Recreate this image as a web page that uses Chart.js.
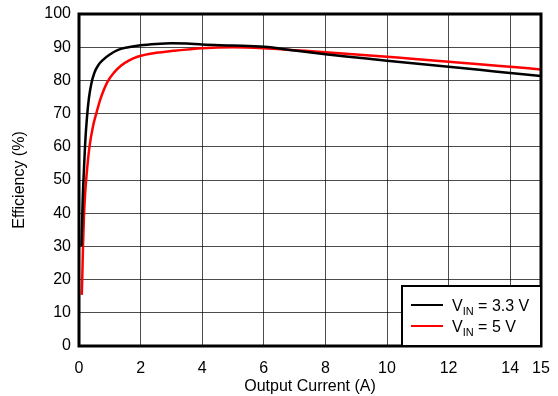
<!DOCTYPE html>
<html>
<head>
<meta charset="utf-8">
<script src="https://cdn.jsdelivr.net/npm/chart.js@4.4.1/dist/chart.umd.min.js"></script>
<style>
  html, body { margin: 0; padding: 0; background: #fff; }
  #wrap { width: 558px; height: 396px; }
</style>
</head>
<body>
<div id="wrap"><canvas id="grafico_eficiencia" width="558" height="396"></canvas></div>
<script>
// curva VIN = 3.3 V (preta)
const corrente_33 = [0.08, 0.12, 0.16, 0.2, 0.26, 0.32, 0.4, 0.5, 0.62, 0.78, 1.0, 1.27, 1.6, 2.0, 2.5, 3.0, 3.5, 4.0, 5.0, 6.0, 7.0, 8.0, 9.0, 10.0, 11.0, 12.0, 13.0, 14.0, 15.0]
const efic_33 = [30, 44, 53, 61, 69, 74.5, 79, 82.3, 84.5, 86.2, 87.8, 89.2, 90.0, 90.6, 91.0, 91.2, 91.1, 90.8, 90.5, 90.1, 89.0, 87.9, 86.9, 85.9, 85.0, 84.1, 83.2, 82.2, 81.3]

// curva VIN = 5 V (vermelha)
const corrente_5 = [0.09, 0.11, 0.13, 0.16, 0.2, 0.25, 0.34, 0.45, 0.56, 0.7, 0.92, 1.15, 1.37, 1.6, 1.92, 2.5, 3.05, 4.0, 5.0, 6.0, 7.0, 8.0, 9.0, 10.0, 11.0, 12.0, 13.0, 14.0, 15.0]
const efic_5 = [15.4, 22, 30, 39, 46, 52, 60, 66, 70, 74.5, 79.5, 82.5, 84.5, 85.9, 87.2, 88.3, 88.9, 89.7, 90.0, 89.7, 89.1, 88.5, 87.8, 87.1, 86.4, 85.6, 84.9, 84.1, 83.3]

const ticks_x = [0, 2, 4, 6, 8, 10, 12, 14, 15]
const ticks_y = [0, 10, 20, 30, 40, 50, 60, 70, 80, 90, 100]

const legenda_base = ['V', 'V']
const legenda_sub = ['IN', 'IN']
const legenda_resto = [' = 3.3 V', ' = 5 V']
const cores = ['#000000', '#ff0000']

function montar_pontos(xs, ys) {
    let pts = []
    for (let i = 0; i < xs.length; i++) {
        pts.push({ x: xs[i], y: ys[i] })
    }
    return pts
}

const fonte = 'Liberation Sans, Arial, sans-serif'

// tira o espaco extra que o chart.js reserva para os rotulos
function zerar_padding(scale) {
    scale.paddingLeft = 0
    scale.paddingRight = 0
    scale.paddingTop = 0
    scale.paddingBottom = 0
}

// borda grossa em volta da area + legenda com subscrito
const plugin_moldura = {
    id: 'moldura',
    afterDraw(chart) {
        const ctx = chart.ctx
        const a = chart.chartArea
        ctx.save()
        ctx.strokeStyle = '#000'
        ctx.lineWidth = 3
        ctx.strokeRect(a.left, a.top, a.right - a.left, a.bottom - a.top)

        // caixa da legenda
        const bx = 402, by = 286, bw = a.right - 402, bh = a.bottom - 286
        ctx.fillStyle = '#fff'
        ctx.fillRect(bx, by, bw, bh)
        ctx.lineWidth = 2
        ctx.strokeRect(bx, by, bw, bh)

        for (let i = 0; i < legenda_base.length; i++) {
            const ly = 305 + i * 21
            ctx.strokeStyle = cores[i]
            ctx.lineWidth = 2
            ctx.beginPath()
            ctx.moveTo(411, ly)
            ctx.lineTo(443, ly)
            ctx.stroke()

            ctx.fillStyle = '#000'
            ctx.textBaseline = 'alphabetic'
            ctx.textAlign = 'left'
            let x = 452
            const base = ly + 6
            ctx.font = '16px ' + fonte
            ctx.fillText(legenda_base[i], x, base)
            x += ctx.measureText(legenda_base[i]).width
            ctx.font = '11px ' + fonte
            ctx.fillText(legenda_sub[i], x, base + 3.5)
            x += ctx.measureText(legenda_sub[i]).width
            ctx.font = '16px ' + fonte
            ctx.fillText(legenda_resto[i], x, base)
        }
        ctx.restore()
    }
}

const data_eficiencia = {
    datasets: [
        {
            label: 'VIN = 3.3 V',
            data: montar_pontos(corrente_33, efic_33),
            borderColor: cores[0],
            backgroundColor: cores[0],
            borderWidth: 2.5,
            pointRadius: 0,
            cubicInterpolationMode: 'monotone',
            fill: false,
        },
        {
            label: 'VIN = 5 V',
            data: montar_pontos(corrente_5, efic_5),
            borderColor: cores[1],
            backgroundColor: cores[1],
            borderWidth: 2.5,
            pointRadius: 0,
            cubicInterpolationMode: 'monotone',
            fill: false,
        }
    ]
}

const config_eficiencia = {
    type: 'line',
    data: data_eficiencia,
    options: {
        responsive: false,
        animation: false,
        devicePixelRatio: 1,
        layout: { padding: { left: 0, right: 17, top: 14, bottom: 0 } },
        plugins: {
            legend: { display: false },
            tooltip: { enabled: false },
        },
        scales: {
            x: {
                type: 'linear',
                min: 0,
                max: 15,
                afterBuildTicks(scale) {
                    scale.ticks = ticks_x.map(v => ({ value: v }))
                },
                afterFit(scale) {
                    scale.height = 50
                    zerar_padding(scale)
                },
                grid: { color: 'rgba(0,0,0,0.7)', lineWidth: 1, drawTicks: false },
                border: { display: false },
                ticks: { color: '#000', padding: 13, maxRotation: 0, font: { family: fonte, size: 16 } },
                title: {
                    display: true,
                    text: 'Output Current (A)',
                    color: '#000',
                    padding: { top: 0, bottom: 0 },
                    font: { family: fonte, size: 16 }
                }
            },
            y: {
                min: 0,
                max: 100,
                afterBuildTicks(scale) {
                    scale.ticks = ticks_y.map(v => ({ value: v }))
                },
                afterFit(scale) {
                    scale.width = 79
                    zerar_padding(scale)
                },
                grid: { color: 'rgba(0,0,0,0.7)', lineWidth: 1, drawTicks: false },
                border: { display: false },
                ticks: { color: '#000', padding: 8, font: { family: fonte, size: 16 } },
                title: {
                    display: true,
                    text: 'Efficiency (%)',
                    color: '#000',
                    padding: { top: 10, bottom: 0 },
                    font: { family: fonte, size: 16 }
                }
            }
        }
    },
    plugins: [plugin_moldura]
}

const ctx_eficiencia = document.getElementById('grafico_eficiencia')
new Chart(ctx_eficiencia, config_eficiencia)
</script>
</body>
</html>
